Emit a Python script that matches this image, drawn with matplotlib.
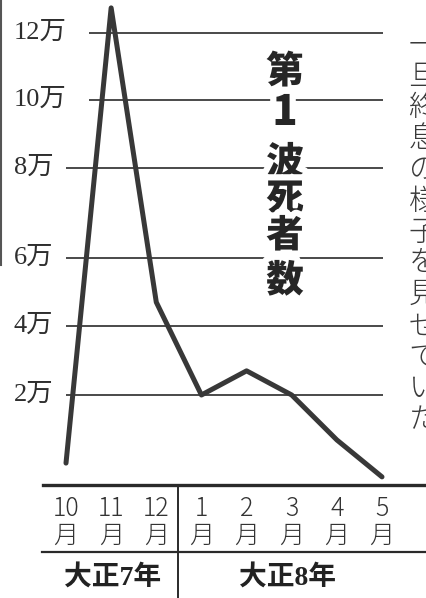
import numpy as np
import matplotlib
matplotlib.use('Agg')
import matplotlib.pyplot as plt
import matplotlib.transforms as mtransforms
import matplotlib.patheffects as pe
from matplotlib.lines import Line2D

# data (deaths, unit: 万)
months = ['10', '11', '12', '1', '2', '3', '4', '5']
deaths = [0.47, 12.75, 4.70, 2.0, 2.70, 2.0, 0.99, 0.16]
grid_vals = [2, 4, 6, 8, 10, 12]
grid_labels = ['2万', '4万', '6万', '8万', '10万', '12万']
eras = ['大正7年', '大正8年']
title = '第1波死者数'
note = '一旦終息の様子を見せていた'

W, H = 427, 598
fig = plt.figure(figsize=(W / 100, H / 100), dpi=100)
fig.patch.set_facecolor('white')

base_px = 484
ax = fig.add_axes([0, (H - base_px) / H, 1, base_px / H])
ax.set_axis_off()

# the printed chart has uneven grid spacing -> piecewise scale
scale_vals = [0, 2, 4, 6, 8, 10, 12, 14]
scale_h = [0, 89, 158, 226, 316, 384, 451, 518]
fwd = lambda v: np.interp(v, scale_vals, scale_h)
inv = lambda h: np.interp(h, scale_h, scale_vals)
ax.set_yscale('function', functions=(fwd, inv))

pitch = (382 - 66) / 7
ax.set_xlim(-66 / pitch, (W - 66) / pitch)
ax.set_ylim(0, float(inv(base_px)))

x = np.arange(len(months))
grid_c = '#4a4a4a'
txt_c = '#2e2e2e'

# grid lines
for v in grid_vals:
    x0 = (89 - 66) / pitch if v >= 10 else 0
    ax.hlines(v, x0, 7.02, color=grid_c, lw=1.4, zorder=1)

# y labels
ylab_tr = mtransforms.blended_transform_factory(fig.transFigure, ax.transData)
for v, lab in zip(grid_vals, grid_labels):
    ax.text(14 / W, v, lab, transform=ylab_tr, ha='left', va='center',
            fontsize=19, color=txt_c,
            family=['Liberation Serif', 'Noto Sans CJK JP'])

# the series
ax.plot(x, deaths, color='#383838', lw=3.6, solid_joinstyle='round',
        solid_capstyle='round', zorder=3)

# title (vertical, heavy, with white halo)
fx = lambda p: p / W
fy = lambda p: 1 - p / H
title_y = [72, 113, 163, 199, 236, 281]
for ch, yp in zip(title, title_y):
    fs = 30 if ch == '1' else 27
    fig.text(fx(285), fy(yp), ch, ha='center', va='center', fontsize=fs,
             weight='black', color='#262626', family=['Noto Sans CJK JP'],
             zorder=5,
             path_effects=[pe.withStroke(linewidth=9, foreground='white')])

# side note (vertical, cut by the right edge)
for i, ch in enumerate(note):
    fig.text(fx(423), fy(45 + 31.25 * i), ch, ha='center', va='center',
             fontsize=21, color='#3a3a3a', family=['Noto Sans CJK JP'],
             weight='light')

# bottom axis table
fig.add_artist(Line2D([fx(43), 1], [fy(485), fy(485)], color='#2a2a2a', lw=2.4))
fig.add_artist(Line2D([fx(42), 1], [fy(552), fy(552)], color='#2a2a2a', lw=1.6))
fig.add_artist(Line2D([fx(178), fx(178)], [fy(485), 0], color='#2a2a2a', lw=1.4))

mon_tr = mtransforms.blended_transform_factory(ax.transData, fig.transFigure)
for xi, m in zip(x, months):
    ax.text(xi, fy(509), m, transform=mon_tr, ha='center', va='center',
            fontsize=18, color='#333333', family=['Noto Sans CJK JP'],
            weight='light', clip_on=False)
    ax.text(xi, fy(536), '月', transform=mon_tr, ha='center', va='center',
            fontsize=18, color='#333333', family=['Noto Sans CJK JP'],
            weight='light', clip_on=False)

for era, cx in zip(eras, [113, 288]):
    fig.text(fx(cx), fy(578), era, ha='center', va='center', fontsize=20,
             weight='bold', color='#222222',
             family=['Liberation Serif', 'Noto Sans CJK JP'])

# left edge border remnant
fig.add_artist(Line2D([fx(1), fx(1)], [1, fy(265)], color='#555555', lw=1.5))

fig.savefig('out.png', dpi=100)
